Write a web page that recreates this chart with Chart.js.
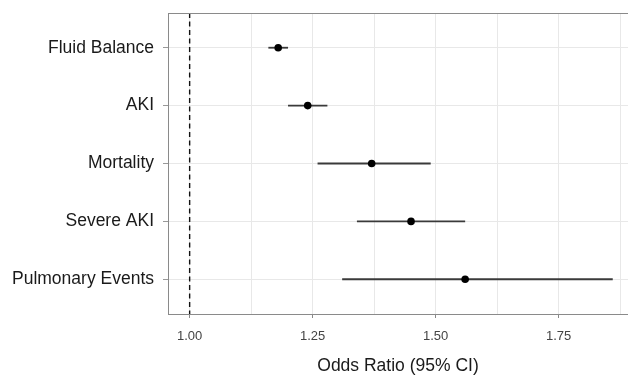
<!DOCTYPE html>
<html>
<head>
<meta charset="utf-8">
<script src="https://cdn.jsdelivr.net/npm/chart.js@4.4.1/dist/chart.umd.min.js"></script>
<style>
  html, body { margin: 0; padding: 0; background: #fff; }
  #wrap { width: 628px; height: 375px; }
</style>
</head>
<body>
<div id="wrap"><canvas id="forest"></canvas></div>
<script>
const categories = ["Fluid Balance", "AKI", "Mortality", "Severe AKI", "Pulmonary Events"];
const oddsRatio = [1.18, 1.24, 1.37, 1.45, 1.56];
const ciLow = [1.16, 1.2, 1.26, 1.34, 1.31];
const ciHigh = [1.2, 1.28, 1.49, 1.56, 1.86];
const xTicks = [1.0, 1.125, 1.25, 1.375, 1.5, 1.625, 1.75, 1.875];
const refValue = 1.0;

const FONT = "'Liberation Sans', Arial, sans-serif";

// one little line per row for the confidence interval
const ciSets = categories.map((name, i) => ({
  label: name + " CI",
  data: [{ x: ciLow[i], y: i }, { x: ciHigh[i], y: i }],
  showLine: true,
  borderColor: "#3a3a3a",
  borderWidth: 1.8,
  pointRadius: 0,
  order: 1,
}));

// top border of the panel
const topBorder = {
  id: "topBorder",
  afterDraw(chart) {
    const { ctx, chartArea } = chart;
    ctx.save();
    ctx.strokeStyle = "#8a8a8a";
    ctx.lineWidth = 1;
    ctx.beginPath();
    ctx.moveTo(chartArea.left, chartArea.top + 0.5);
    ctx.lineTo(chartArea.right, chartArea.top + 0.5);
    ctx.stroke();
    ctx.restore();
  },
};

new Chart(document.getElementById("forest"), {
  type: "scatter",
  data: {
    datasets: [
      {
        label: "Odds Ratio",
        data: oddsRatio.map((v, i) => ({ x: v, y: i })),
        backgroundColor: "#000",
        borderColor: "#000",
        pointRadius: 3.8,
        borderWidth: 0,
        order: 0,
      },
      ...ciSets,
      {
        label: "Reference",
        data: [{ x: refValue, y: -0.6 }, { x: refValue, y: categories.length - 0.4 }],
        showLine: true,
        borderColor: "#111",
        borderWidth: 1.4,
        borderDash: [5, 3.5],
        pointRadius: 0,
        order: 2,
      },
    ],
  },
  options: {
    responsive: true,
    maintainAspectRatio: false,
    animation: false,
    layout: { autoPadding: false, padding: { left: 10, top: 13, right: 0, bottom: 0 } },
    plugins: { legend: { display: false }, tooltip: { enabled: false } },
    scales: {
      x: {
        type: "linear",
        min: 0.956,
        max: 1.891,
        afterBuildTicks: (scale) => {
          scale.ticks = xTicks.map((v) => ({ value: v }));
        },
        afterFit: (scale) => {
          scale.height = 61;
          scale.paddingLeft = 0;
          scale.paddingRight = 0;
        },
        ticks: {
          autoSkip: false,
          maxRotation: 0,
          padding: 11,
          color: "#444",
          font: { family: FONT, size: 13 },
          callback: (v) => (Math.abs(v * 4 - Math.round(v * 4)) < 1e-6 ? v.toFixed(2) : ""),
        },
        grid: {
          color: "#e8e8e8",
          lineWidth: 1,
          tickLength: 4,
          tickColor: (c) =>
            Math.abs(c.tick.value * 4 - Math.round(c.tick.value * 4)) < 1e-6 ? "#888" : "rgba(0,0,0,0)",
        },
        border: { display: true, color: "#8a8a8a", width: 1 },
        title: {
          display: true,
          text: "Odds Ratio (95% CI)",
          color: "#1a1a1a",
          font: { family: FONT, size: 17.5, lineHeight: 1 },
          padding: { top: 0, bottom: 0 },
        },
      },
      y: {
        type: "linear",
        reverse: true,
        min: -0.6,
        max: categories.length - 0.4,
        afterBuildTicks: (scale) => {
          scale.ticks = categories.map((c, i) => ({ value: i }));
        },
        afterFit: (scale) => {
          scale.width = 158;
          scale.paddingTop = 0;
          scale.paddingBottom = 0;
        },
        ticks: {
          autoSkip: false,
          padding: 9,
          color: "#1a1a1a",
          font: { family: FONT, size: 17.5 },
          callback: (v) => categories[v],
        },
        grid: {
          color: "#e8e8e8",
          lineWidth: 1,
          tickLength: 5,
          tickColor: "#999",
        },
        border: { display: true, color: "#8a8a8a", width: 1 },
      },
    },
  },
  plugins: [topBorder],
});
</script>
</body>
</html>
